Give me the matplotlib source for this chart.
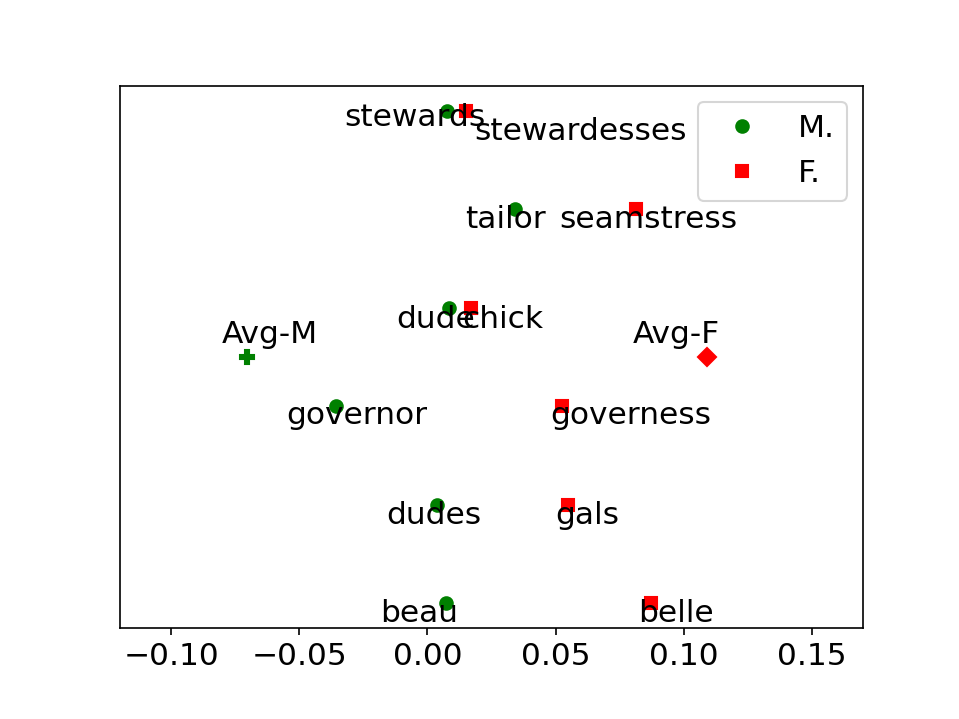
import matplotlib
matplotlib.use('Agg')
import matplotlib.pyplot as plt

plt.rcParams['font.size'] = 15

# Word pairs (male / female) and their projected positions
male_words = ['beau', 'dudes', 'governor', 'dude', 'tailor', 'stewards']
female_words = ['belle', 'gals', 'governess', 'chick', 'seamstress', 'stewardesses']
pair_y = [0, 1, 2, 3, 4, 5]
male_x = [0.0072, 0.0036, -0.0355, 0.0083, 0.0342, 0.0076]
female_x = [0.0874, 0.055, 0.0527, 0.017, 0.0812, 0.015]

avg_labels = ['Avg-M', 'Avg-F']
avg_x = [-0.0704, 0.109]
avg_y = [2.5, 2.5]

# label placement (text center x, baseline y) as it was laid out
male_text_x = [-0.0034, 0.0025, -0.0277, 0.0033, 0.0303, -0.005]
male_text_y = [-0.193, 0.801, 1.815, 2.799, 3.813, 4.848]
female_text_x = [0.0969, 0.0624, 0.0793, 0.0295, 0.0863, 0.0597]
female_text_y = [-0.193, 0.801, 1.815, 2.799, 3.813, 4.706]
avg_text_x = [-0.0614, 0.0973]
avg_text_y = [2.647, 2.647]

fig, ax = plt.subplots(figsize=(9.59 / 1.5, 7.19 / 1.5), dpi=150)
fig.subplots_adjust(bottom=0.127)

ax.plot(male_x, pair_y, 'o', color='green', label='M.')
ax.plot(female_x, pair_y, 's', color='red', label='F.')
ax.plot(avg_x[0], avg_y[0], 'P', color='green', markersize=7)
ax.plot(avg_x[1], avg_y[1], 'D', color='red', markersize=6)

for w, tx, ty in zip(male_words, male_text_x, male_text_y):
    ax.text(tx, ty, w, ha='center', va='baseline')
for w, tx, ty in zip(female_words, female_text_x, female_text_y):
    ax.text(tx, ty, w, ha='center', va='baseline')
for w, tx, ty in zip(avg_labels, avg_text_x, avg_text_y):
    ax.text(tx, ty, w, ha='center', va='baseline')

ax.set_xlim(-0.12, 0.17)
ax.set_yticks([])
ax.legend(loc='upper right')

plt.savefig('out.png')
